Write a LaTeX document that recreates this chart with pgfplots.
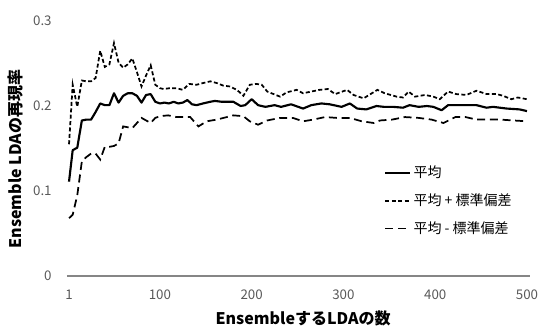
\documentclass[border=0pt]{standalone}
\usepackage{fontspec}
\setmainfont{Noto Sans CJK JP}
\usepackage{pgfplots}
\pgfplotsset{compat=1.18}
\definecolor{tickgray}{HTML}{595959}
\definecolor{axgray}{HTML}{868686}
\begin{document}
\begin{tikzpicture}
\useasboundingbox (-50.25pt,-37.5pt) rectangle (355.5pt,207pt);
\begin{axis}[
  scale only axis, width=347.25pt, height=191.25pt,
  xmin=-1.2, xmax=503.3, ymin=0, ymax=0.3,
  axis x line*=bottom, axis y line*=left,
  y axis line style={draw=none},
  x axis line style={draw=axgray, line width=0.8pt, -},
  xtick={1,100,200,300,400,500},
  ytick={0,0.1,0.2,0.3},
  major tick length=0pt,
  /pgf/number format/assume math mode=true,
  tick label style={font=\fontsize{10}{12}\selectfont, text=tickgray},
  xticklabel style={yshift=-7pt},
  yticklabel style={xshift=-8pt},
  xlabel={EnsembleするLDAの数},
  ylabel={Ensemble LDAの再現率},
  xlabel style={at={(axis description cs:0.51,-0.1647)}, anchor=center, font=\bfseries\fontsize{12}{14}\selectfont},
  ylabel style={at={(axis description cs:-0.1102,0.4588)}, anchor=center, font=\bfseries\fontsize{12}{14}\selectfont},
  legend style={at={(axis description cs:0.685,0.44)}, anchor=north west, draw=none, fill=none, inner sep=0pt, row sep=7.5pt, font=\fontsize{10.5}{12}\selectfont, nodes={inner sep=1.5pt}},
  legend cell align=left,
  legend image code/.code={\draw[#1] (0pt,0pt) -- (18.75pt,0pt);},
]
\addplot[black, line width=1.6pt, line join=round] coordinates {
(1,0.111) (5,0.148) (10,0.151) (15,0.183) (20,0.184) (25,0.184) (30,0.193) (35,0.203) (40,0.201) (45,0.201)
(50,0.215) (55,0.204) (60,0.212) (65,0.215) (70,0.215) (75,0.212) (80,0.204) (85,0.213) (90,0.214) (95,0.205)
(100,0.203) (105,0.204) (110,0.203) (115,0.205) (120,0.203) (125,0.204) (130,0.207) (135,0.202) (140,0.201) (147,0.203)
(155,0.205) (160,0.206) (167,0.205) (173,0.205) (180,0.205) (188,0.200) (193,0.201) (200,0.208) (207,0.201) (215,0.199)
(225,0.201) (232,0.199) (243,0.202) (256,0.197) (265,0.201) (276,0.203) (285,0.202) (298,0.199) (307,0.203) (315,0.197)
(325,0.196) (336,0.200) (344,0.199) (354,0.199) (365,0.198) (372,0.201) (382,0.199) (391,0.200) (398,0.199) (407,0.195)
(414,0.201) (427,0.201) (445,0.201) (456,0.198) (463,0.199) (478,0.197) (492,0.196) (500,0.194)
};
\addlegendentry{平均}
\addplot[black, line width=1.3pt, dash pattern=on 3pt off 1.8pt] coordinates {
(1,0.155) (5,0.225) (10,0.199) (15,0.230) (20,0.229) (25,0.229) (30,0.233) (35,0.265) (40,0.246) (45,0.249)
(50,0.274) (55,0.251) (60,0.245) (65,0.249) (70,0.256) (75,0.240) (80,0.223) (85,0.236) (90,0.248) (95,0.225)
(100,0.221) (104,0.220) (111,0.221) (118,0.221) (125,0.219) (132,0.226) (140,0.225) (147,0.227) (155,0.229) (162,0.227)
(169,0.224) (176,0.223) (184,0.219) (191,0.212) (198,0.225) (205,0.226) (211,0.225) (217,0.217) (231,0.211) (238,0.216)
(249,0.219) (256,0.215) (265,0.217) (274,0.219) (283,0.220) (291,0.214) (304,0.219) (311,0.213) (322,0.209) (331,0.215)
(337,0.219) (345,0.215) (358,0.211) (365,0.210) (371,0.217) (378,0.211) (389,0.213) (398,0.211) (405,0.208) (414,0.217)
(423,0.214) (434,0.213) (445,0.218) (456,0.214) (467,0.214) (474,0.212) (483,0.208) (490,0.210) (500,0.208)
};
\addlegendentry{平均 + 標準偏差}
\addplot[black, line width=1.3pt, dash pattern=on 6pt off 3.5pt] coordinates {
(1,0.068) (5,0.072) (10,0.095) (15,0.135) (20,0.140) (25,0.144) (30,0.144) (35,0.137) (40,0.152) (45,0.152)
(50,0.153) (55,0.156) (60,0.176) (65,0.175) (70,0.174) (75,0.180) (80,0.186) (85,0.183) (90,0.180) (95,0.186)
(100,0.188) (109,0.189) (118,0.187) (126,0.187) (133,0.187) (142,0.176) (151,0.182) (162,0.184) (173,0.187) (180,0.189)
(191,0.188) (198,0.182) (207,0.178) (217,0.183) (231,0.186) (245,0.186) (256,0.182) (267,0.184) (280,0.187) (293,0.186)
(307,0.186) (320,0.182) (333,0.180) (340,0.183) (353,0.184) (367,0.187) (382,0.186) (396,0.184) (409,0.180) (422,0.187)
(433,0.187) (445,0.184) (458,0.184) (471,0.184) (485,0.183) (500,0.182)
};
\addlegendentry{平均 - 標準偏差}
\end{axis}
\end{tikzpicture}
\end{document}
